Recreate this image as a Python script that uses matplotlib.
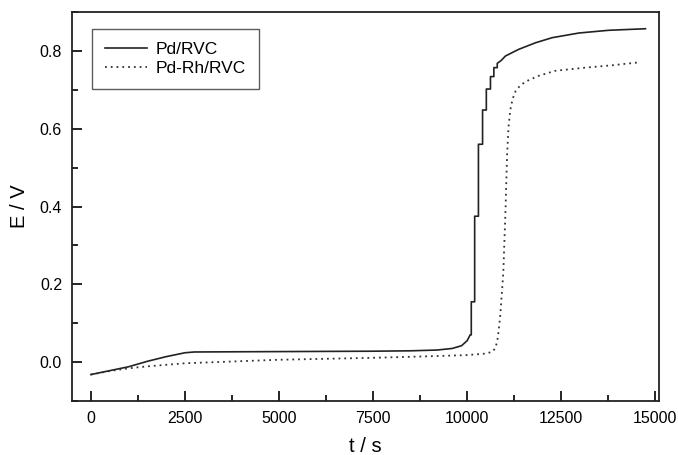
import matplotlib.pyplot as plt
from matplotlib.ticker import MultipleLocator

plt.rcParams['font.family'] = ['Liberation Sans', 'DejaVu Sans']

# Pd/RVC potential transient (solid line, stepwise rise near 10000 s)
t_pd = [0, 500, 1000, 1500, 2000, 2500, 2750, 5000, 7500, 8500, 9200, 9600, 9850,
        10000, 10080, 10110, 10110, 10200, 10200, 10300, 10300, 10410, 10410,
        10510, 10510, 10620, 10620, 10710, 10710, 10800, 10800, 10900, 11020,
        11370, 11820, 12260, 12970, 13760, 14740]
e_pd = [-0.032, -0.022, -0.012, 0.002, 0.014, 0.024, 0.026, 0.027, 0.028, 0.029, 0.031,
        0.035, 0.042, 0.055, 0.07, 0.07, 0.155, 0.155, 0.375, 0.375, 0.56, 0.56,
        0.648, 0.648, 0.702, 0.702, 0.734, 0.734, 0.757, 0.757, 0.768, 0.775, 0.787,
        0.804, 0.821, 0.834, 0.846, 0.853, 0.857]

# Pd-Rh/RVC potential transient (dotted line)
t_pdrh = [0, 500, 1000, 1500, 2500, 5000, 7500, 9000, 10000, 10500, 10680, 10760,
          10820, 10880, 10960, 11020, 11060, 11100, 11150, 11210, 11290, 11400,
          11550, 11900, 12350, 13140, 13850, 14510]
e_pdrh = [-0.032, -0.023, -0.016, -0.011, -0.003, 0.006, 0.011, 0.015, 0.018, 0.022,
          0.027, 0.038, 0.065, 0.12, 0.228, 0.39, 0.53, 0.605, 0.65, 0.677, 0.697,
          0.71, 0.721, 0.736, 0.749, 0.757, 0.763, 0.77]

fig = plt.figure(figsize=(6.78, 4.55), dpi=100)
ax = fig.add_axes([0.1058, 0.1187, 0.8662, 0.8549])

ax.plot(t_pd, e_pd, color='#222222', lw=1.2, label='Pd/RVC')
ax.plot(t_pdrh, e_pdrh, color='#333333', lw=1.3, linestyle=(0, (1, 2.2)), label='Pd-Rh/RVC')

ax.set_xlim(-510, 15100)
ax.set_ylim(-0.1, 0.9)
ax.xaxis.set_major_locator(MultipleLocator(2500))
ax.xaxis.set_minor_locator(MultipleLocator(1250))
ax.yaxis.set_minor_locator(MultipleLocator(0.1))
ax.set_yticks([0.0, 0.2, 0.4, 0.6, 0.8])
ax.set_yticklabels(['0.0', '0.2', '0.4', '0.6', '0.8'])

ax.tick_params(which='both', direction='in', top=False, right=False, labelsize=11.5, width=1.2)
ax.tick_params(which='major', length=7, pad=7)
ax.tick_params(which='minor', length=4)
for s in ax.spines.values():
    s.set_linewidth(1.3)
    s.set_color('#222222')

ax.set_xlabel('t / s', fontsize=14.5, labelpad=8)
ax.set_ylabel('E / V', fontsize=14.5, labelpad=8)

leg = ax.legend(loc='upper left', bbox_to_anchor=(0.035, 0.956), borderaxespad=0,
                fancybox=False, edgecolor='#333333', fontsize=12.5, handlelength=2.4,
                borderpad=0.75, labelspacing=0.22, handletextpad=0.5)
leg.get_frame().set_linewidth(1.0)

fig.savefig('out.png', dpi=100)
